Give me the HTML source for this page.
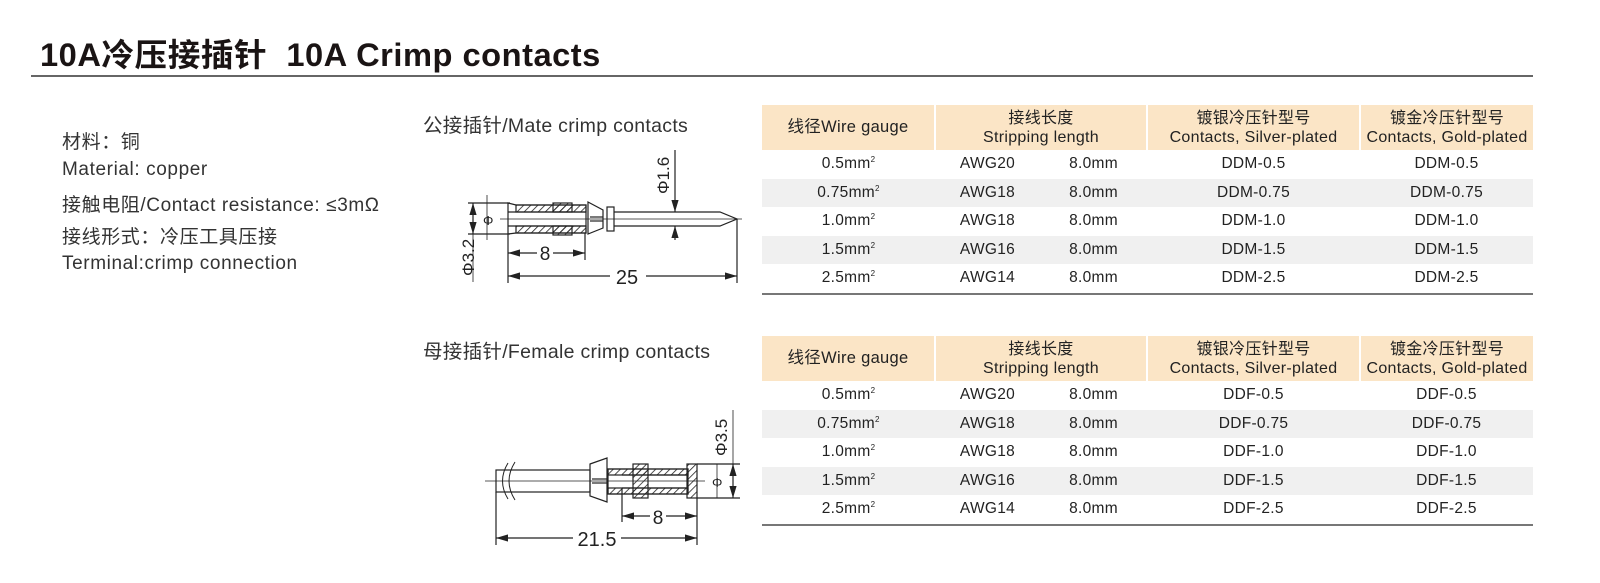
<!DOCTYPE html>
<html><head><meta charset="utf-8"><style>
body{margin:0;width:1600px;height:583px;background:#fff;position:relative;overflow:hidden;font-family:"Liberation Sans","Noto Sans CJK SC",sans-serif;color:#222}
.a{position:absolute;white-space:nowrap}
.title{left:40px;top:30px;font-size:32px;font-weight:bold;color:#1a1414;transform:scaleX(1.02);transform-origin:left top;letter-spacing:0.5px}
.hr{left:31px;top:75px;width:1502px;height:2px;background:#666}
.l{left:62px;font-size:19px;color:#333;letter-spacing:0.6px}
.sub{font-size:19.5px;color:#333;letter-spacing:0.3px}
table{position:absolute;left:762px;width:771px;border-collapse:collapse;font-size:15.5px;color:#222;letter-spacing:0.3px}
td{text-align:center;padding:0;height:28.5px}
tr.h td{background:#fbe5c6;height:45px;line-height:19px;border-left:2px solid #fff;font-size:16px}
tr.h td:first-child{border-left:none;font-size:16.5px}
tr.g td{background:#f0f0f0}
tr.last td{border-bottom:2px solid #777}
sup{font-size:8px}
</style></head><body>
<div class="a title">10A冷压接插针&nbsp;&nbsp;10A Crimp contacts</div>
<div class="a hr"></div>
<div class="a l" style="top:127px">材料：铜</div>
<div class="a l" style="top:159px">Material: copper</div>
<div class="a l" style="top:190px">接触电阻/Contact resistance: ≤3mΩ</div>
<div class="a l" style="top:222px">接线形式：冷压工具压接</div>
<div class="a l" style="top:253px">Terminal:crimp connection</div>
<div class="a sub" style="left:423px;top:109px">公接插针/Mate crimp contacts</div>
<div class="a sub" style="left:423px;top:335px">母接插针/Female crimp contacts</div>

<table style="top:105px">
<colgroup><col style="width:173px"><col style="width:105px"><col style="width:107px"><col style="width:213px"><col style="width:173px"></colgroup>
<tr class="h"><td>线径Wire gauge</td><td colspan="2">接线长度<br>Stripping length</td><td>镀银冷压针型号<br>Contacts, Silver-plated</td><td>镀金冷压针型号<br>Contacts, Gold-plated</td></tr>
<tr><td>0.5mm<sup>2</sup></td><td>AWG20</td><td>8.0mm</td><td>DDM-0.5</td><td>DDM-0.5</td></tr>
<tr class="g"><td>0.75mm<sup>2</sup></td><td>AWG18</td><td>8.0mm</td><td>DDM-0.75</td><td>DDM-0.75</td></tr>
<tr><td>1.0mm<sup>2</sup></td><td>AWG18</td><td>8.0mm</td><td>DDM-1.0</td><td>DDM-1.0</td></tr>
<tr class="g"><td>1.5mm<sup>2</sup></td><td>AWG16</td><td>8.0mm</td><td>DDM-1.5</td><td>DDM-1.5</td></tr>
<tr class="last"><td>2.5mm<sup>2</sup></td><td>AWG14</td><td>8.0mm</td><td>DDM-2.5</td><td>DDM-2.5</td></tr>
</table>
<table style="top:336px">
<colgroup><col style="width:173px"><col style="width:105px"><col style="width:107px"><col style="width:213px"><col style="width:173px"></colgroup>
<tr class="h"><td>线径Wire gauge</td><td colspan="2">接线长度<br>Stripping length</td><td>镀银冷压针型号<br>Contacts, Silver-plated</td><td>镀金冷压针型号<br>Contacts, Gold-plated</td></tr>
<tr><td>0.5mm<sup>2</sup></td><td>AWG20</td><td>8.0mm</td><td>DDF-0.5</td><td>DDF-0.5</td></tr>
<tr class="g"><td>0.75mm<sup>2</sup></td><td>AWG18</td><td>8.0mm</td><td>DDF-0.75</td><td>DDF-0.75</td></tr>
<tr><td>1.0mm<sup>2</sup></td><td>AWG18</td><td>8.0mm</td><td>DDF-1.0</td><td>DDF-1.0</td></tr>
<tr class="g"><td>1.5mm<sup>2</sup></td><td>AWG16</td><td>8.0mm</td><td>DDF-1.5</td><td>DDF-1.5</td></tr>
<tr class="last"><td>2.5mm<sup>2</sup></td><td>AWG14</td><td>8.0mm</td><td>DDF-2.5</td><td>DDF-2.5</td></tr>
</table>

<svg class="a" style="left:0;top:0" width="1600" height="583" stroke="#222" fill="none" stroke-width="1.2" font-family="Liberation Sans, sans-serif">
<defs>
<pattern id="h" width="5" height="5" patternUnits="userSpaceOnUse" patternTransform="rotate(45)"><line x1="0" y1="0" x2="0" y2="5" stroke="#222" stroke-width="1.6"/></pattern>
<marker id="ar" markerWidth="10" markerHeight="6" refX="10" refY="3" orient="auto-start-reverse"><path d="M0,0 L10,3 L0,6z" fill="#222" stroke="none"/></marker>
</defs>
<!-- male -->
<line x1="500" y1="219" x2="742" y2="219" stroke-width="0.8"/>
<line x1="468" y1="203" x2="510" y2="203"/><line x1="468" y1="234" x2="510" y2="234"/>
<line x1="473" y1="203" x2="473" y2="234" marker-start="url(#ar)" marker-end="url(#ar)"/>
<line x1="487" y1="195" x2="487" y2="240" stroke-width="0.8"/>
<text x="483" y="225" font-size="13" stroke="none" fill="#222">Φ</text>
<rect x="516" y="205" width="70" height="7" fill="url(#h)"/><rect x="516" y="226" width="70" height="7" fill="url(#h)"/>
<rect x="553" y="203" width="19" height="9" fill="url(#h)"/><rect x="553" y="226" width="19" height="9" fill="url(#h)"/>
<path d="M508,203 L516,205 L586,205 L586,233 L516,233 L508,234 Z"/>
<line x1="508" y1="212" x2="586" y2="212"/><line x1="508" y1="226" x2="586" y2="226"/>
<path d="M588,202 L603,210 L603,228 L588,234 Z"/><line x1="590" y1="217" x2="603" y2="217"/><line x1="590" y1="221" x2="603" y2="221"/>
<rect x="607" y="207" width="7" height="24"/>
<path d="M614,212 L720,212 L737,219 L720,226 L614,226"/>
<line x1="508" y1="234" x2="508" y2="283"/><line x1="585" y1="233" x2="585" y2="260"/><line x1="737" y1="219" x2="737" y2="283"/>
<line x1="508" y1="253" x2="585" y2="253" marker-start="url(#ar)" marker-end="url(#ar)"/>
<rect x="537" y="243" width="16" height="18" fill="#fff" stroke="none"/>
<text x="545" y="260" font-size="19" text-anchor="middle" stroke="none" fill="#222">8</text>
<line x1="508" y1="276" x2="737" y2="276" marker-start="url(#ar)" marker-end="url(#ar)"/>
<rect x="610" y="265" width="36" height="20" fill="#fff" stroke="none"/>
<text x="627" y="284" font-size="20" text-anchor="middle" stroke="none" fill="#222">25</text>
<line x1="473" y1="234" x2="473" y2="282" stroke-width="0.8"/>
<text transform="translate(474,276) rotate(-90)" font-size="17" stroke="none" fill="#222">Φ3.2</text>
<line x1="675" y1="150" x2="675" y2="212" marker-end="url(#ar)"/><line x1="675" y1="240" x2="675" y2="226" marker-end="url(#ar)"/>
<text transform="translate(669,194) rotate(-90)" font-size="17" stroke="none" fill="#222">Φ1.6</text>
<!-- female -->
<line x1="485" y1="481" x2="705" y2="481" stroke-width="0.8"/>
<rect x="496" y="470" width="94" height="22"/>
<path d="M515,462 Q503,481 515,500 M508,463 Q497,481 508,499" stroke-width="1"/>
<path d="M590,464 L607,458 L607,502 L590,496 Z"/><line x1="592" y1="479" x2="607" y2="479"/><line x1="592" y1="483" x2="607" y2="483"/>
<rect x="608" y="469" width="80" height="6" fill="url(#h)"/><rect x="608" y="488" width="80" height="6" fill="url(#h)"/>
<rect x="633" y="464" width="15" height="34" fill="url(#h)"/>
<rect x="608" y="469" width="80" height="25"/>
<line x1="622" y1="475" x2="688" y2="475"/><line x1="622" y1="488" x2="688" y2="488"/>
<rect x="687" y="464" width="10" height="34" fill="url(#h)"/>
<line x1="697" y1="464" x2="740" y2="464"/><line x1="697" y1="498" x2="740" y2="498"/>
<text x="712" y="487" font-size="13" stroke="none" fill="#222">Φ</text>
<line x1="717" y1="464" x2="717" y2="498" stroke-width="0.8"/>
<line x1="733" y1="410" x2="733" y2="498" stroke-width="0.8"/>
<line x1="733" y1="464" x2="733" y2="498" marker-start="url(#ar)" marker-end="url(#ar)"/>
<text transform="translate(727,456) rotate(-90)" font-size="17" stroke="none" fill="#222">Φ3.5</text>
<line x1="496" y1="492" x2="496" y2="545"/><line x1="622" y1="488" x2="622" y2="522"/><line x1="697" y1="498" x2="697" y2="545"/>
<line x1="622" y1="516" x2="697" y2="516" marker-start="url(#ar)" marker-end="url(#ar)"/>
<rect x="650" y="506" width="16" height="18" fill="#fff" stroke="none"/>
<text x="658" y="524" font-size="19" text-anchor="middle" stroke="none" fill="#222">8</text>
<line x1="496" y1="538" x2="697" y2="538" marker-start="url(#ar)" marker-end="url(#ar)"/>
<rect x="573" y="527" width="48" height="20" fill="#fff" stroke="none"/>
<text x="597" y="546" font-size="20" text-anchor="middle" stroke="none" fill="#222">21.5</text>
</svg>
</body></html>
